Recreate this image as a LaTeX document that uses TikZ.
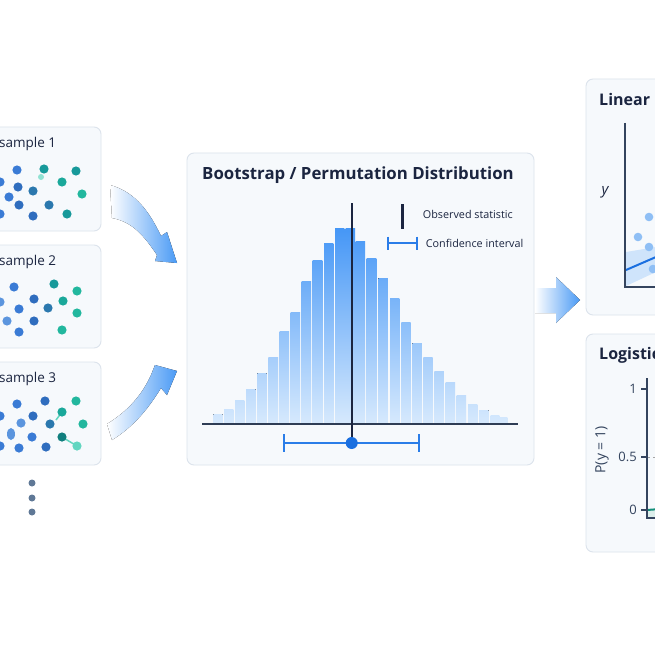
\documentclass[tikz,border=0pt]{standalone}
\usepackage{fontspec}
\setmainfont{Open Sans}
\definecolor{panelfill}{HTML}{F6F9FC}
\definecolor{panelborder}{HTML}{DCE3EC}
\definecolor{navy}{HTML}{1B2540}
\definecolor{slate}{HTML}{34445E}
\definecolor{ciblue}{HTML}{2A7DE8}
\definecolor{barTop}{HTML}{4496F6}
\definecolor{barBot}{HTML}{D6E9FD}
\definecolor{arrowblue}{HTML}{4A9AF5}
\definecolor{bA}{HTML}{3A7BD5}
\definecolor{bB}{HTML}{2F6DBE}
\definecolor{bL}{HTML}{5B95DE}
\definecolor{tA}{HTML}{17999A}
\definecolor{tB}{HTML}{1AA89A}
\definecolor{gA}{HTML}{22B79E}
\definecolor{tD}{HTML}{117F7E}
\definecolor{tL}{HTML}{62D6C0}
\definecolor{bt}{HTML}{2B78AE}
\definecolor{ptblue}{HTML}{8FBFF5}
\definecolor{bandblue}{HTML}{CFE4FB}
\definecolor{linblue}{HTML}{1A6FE0}
\definecolor{dotgray}{HTML}{5F7896}
\definecolor{logigreen}{HTML}{138F7A}
\begin{document}
\begin{tikzpicture}[x=1pt,y=-1pt,
  panel/.style={draw=panelborder, fill=panelfill, line width=0.9pt, rounded corners=7pt},
  sampletitle/.style={anchor=west, inner sep=0pt, text=navy, font=\fontsize{13.5}{15}\selectfont},
  paneltitle/.style={anchor=west, inner sep=0pt, text=navy, font=\bfseries\fontsize{16}{19}\selectfont},
  legendtext/.style={anchor=west, inner sep=0pt, text=navy, font=\fontsize{10.8}{13}\selectfont},
  ticklabel/.style={anchor=east, inner sep=0pt, text=slate, font=\fontsize{13}{15}\selectfont},
  fatarrow/.style={left color=white, right color=arrowblue, draw=none}
  ]
\useasboundingbox (0,0) rectangle (655,655);
\clip (0,0) rectangle (655,655);
\fill[white] (0,0) rectangle (655,655);

% ---------- sample panels ----------
\draw[panel] (-20,127) rectangle (101,231);
\draw[panel] (-20,245) rectangle (101,348);
\draw[panel] (-20,362) rectangle (101,465);
\node[sampletitle] (s1) at (-1,144) {sample 1};
\node[sampletitle] (s2) at (-1,262) {sample 2};
\node[sampletitle] (s3) at (-1,379) {sample 3};

% sample 1 dots
\foreach \x/\y/\c in {17/170/bA, 0/182/bA, 18/187/bB, 33/191/bt, 9/197/bA, 19/205/bB, 0/214/bA, 33/216/bB,
  44/169/tA, 62/182/tB, 76/171/tA, 82/194/gA, 49/205/bt, 67/214/tA}
  \fill[\c] (\x,\y) circle (4.6);
\fill[tL!70] (41,177) circle (3);
% sample 2 dots
\foreach \x/\y/\c in {14/287/bA, 0/302/bL, 34/299/bB, 19/309/bA, 7/321/bL, 34/321/bB, 19/332/bA,
  48/308/bt, 54/284/tA, 63/301/tB, 77/291/gA, 77/313/gA, 62/330/gA}
  \fill[\c] (\x,\y) circle (4.6);
% sample 3 dots
\draw[tL, line width=1.5pt] (62,412) -- (56,420);
\draw[tL, line width=1.5pt] (62,437) -- (77,446);
\foreach \x/\y/\c in {17/404/bA, 0/416/bA, 21/423/bL, 33/416/bB, 32/437/bA, 0/446/bA, 19/448/bA,
  45/401/bB, 50/424/bt, 46/447/bB, 62/412/tB, 76/401/gA, 83/424/gA, 62/437/tD, 77/446/tL}
  \fill[\c] (\x,\y) circle (4.6);
\fill[bL] (11,434) ellipse (4 and 6);
% vertical ellipsis dots
\foreach \y in {483,498,512} \fill[dotgray] (32,\y) circle (3.5);

% ---------- curved arrows ----------
\fill[fatarrow] (110,185) .. controls (136,192) and (150,213) .. (161,236)
  -- (167,232) -- (177,263) -- (155,261) -- (157,255)
  .. controls (144,236) and (133,222) .. (112,218) -- cycle;
\fill[fatarrow] (107,424) .. controls (128,411) and (142,395) .. (151,375)
  -- (155,365) -- (177,371) -- (167,395) -- (161,388)
  .. controls (150,406) and (135,426) .. (112,440) -- cycle;

% ---------- central panel ----------
\draw[panel] (187,153) rectangle (534,465);
\node[paneltitle, anchor=center, font=\bfseries\fontsize{16.8}{20}\selectfont] (dtitle) at (358,175) {Bootstrap / Permutation Distribution};

% histogram bars (gradient by absolute height)
\foreach \l/\w/\t in {213.3/9.3/414, 224/9.3/409, 235/9.3/400.7, 246/9.7/389.3, 257.3/9.3/373,
  268.3/9.7/357.7, 279.7/9.3/331.3, 290.7/9.3/312.3, 301.7/9.3/281.3, 312.7/9.7/260,
  324/9.3/243.3, 335/9.3/228.3, 345.7/9.5/228.3, 355.7/9.3/241, 366.7/9.7/258.3,
  378.3/9.5/278.3, 390/9.3/298, 401.3/9.3/322.7, 412.3/9.5/343.3, 423.3/9.3/357.7,
  434.3/9.5/371.7, 445.7/9.3/382.3, 456.7/9.3/395, 468/9.3/404, 479/9.7/410,
  490.7/8.7/415, 500/7.3/417.3}
{
  \pgfmathtruncatemacro\pp{(423-\t)/1.95}
  \colorlet{tcol}{barTop!\pp!barBot}
  \fill[top color=tcol, bottom color=barBot, draw=none] (\l,\t) rectangle ++(\w,423-\t);
}
\draw[slate!90!black, line width=1.3pt] (202,424) coordinate (axl) -- (518,424) coordinate (axr);

% observed statistic line and CI
\coordinate (obsTop) at (351.7,203);
\coordinate (obsDot) at (351.7,443);
\draw[navy, line width=2.4pt] (obsTop) -- (obsDot);
\coordinate (ciL) at (284.3,443);
\coordinate (ciR) at (419.3,443);
\draw[ciblue, line width=2pt] (ciL) -- (ciR);
\draw[ciblue, line width=2pt] (284.3,434) -- (284.3,452);
\draw[ciblue, line width=2pt] (419.3,434) -- (419.3,452);
\fill[linblue] (obsDot) circle (6);

% legend
\draw[navy, line width=2.4pt] (402.3,204) -- (402.3,229);
\node[legendtext] (legobs) at (422.7,214.3) {Observed statistic};
\draw[ciblue, line width=2pt] (387.7,243.3) -- (416.7,243.3);
\draw[ciblue, line width=2pt] (387.7,236.5) -- (387.7,250);
\draw[ciblue, line width=2pt] (416.7,236.5) -- (416.7,250);
\node[legendtext] (legci) at (425.7,243.3) {Confidence interval};

% ---------- right arrow ----------
\fill[fatarrow] (535,288) -- (556,288) -- (556,277) -- (580,300) -- (556,323) -- (556,313) -- (535,313) -- cycle;

% ---------- linear panel ----------
\draw[panel] (586,79) rectangle (690,315);
\node[paneltitle] (lintitle) at (599,100) {Linear};
\node[text=navy, font=\itshape\fontsize{15}{18}\selectfont, inner sep=0pt] (ylab) at (605,192) {y};
\fill[bandblue] (626,252) -- (656,247) -- (656,272) -- (626,286) -- cycle;
\foreach \x/\y in {649/217, 638/237, 649/247, 653/269}
  \fill[ptblue] (\x,\y) circle (4.3);
\draw[linblue, line width=2pt] (626,270) -- (656,257);
\draw[slate, line width=1.4pt] (625,123) -- (625,287) -- (660,287);

% ---------- logistic panel ----------
\draw[panel] (586,334) rectangle (690,552);
\node[paneltitle] (logtitle) at (599,355) {Logistic};
\node[text=slate, font=\fontsize{14}{16}\selectfont, rotate=90, inner sep=0pt] (plab) at (602,450) {P(y = 1)};
\node[ticklabel] (t1) at (637,389) {1};
\node[ticklabel] (t05) at (637,457) {0.5};
\node[ticklabel] (t0) at (637,510) {0};
\draw[gray!70, dashed, line width=0.8pt] (647,457) -- (660,457);
\fill[logigreen!15] (647,510) -- (660,509) -- (660,518) -- (647,518) -- cycle;
\draw[logigreen, line width=2pt] (647,510) -- (660,509);
\draw[slate, line width=1.3pt] (641,389) -- (647,389);
\draw[slate, line width=1.3pt] (641,457) -- (647,457);
\draw[slate, line width=1.3pt] (641,510) -- (647,510);
\draw[slate, line width=1.4pt] (647,378) -- (647,518) -- (660,518);
\end{tikzpicture}
\end{document}
